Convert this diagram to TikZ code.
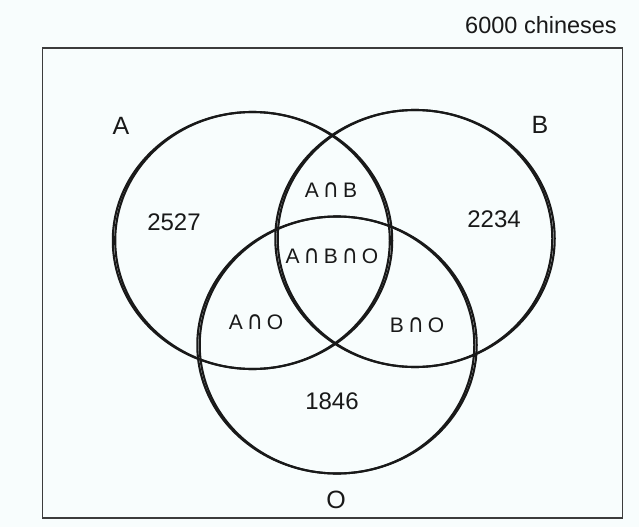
\documentclass[tikz,border=0pt]{standalone}
\usepackage{fontspec}
\setmainfont{Liberation Sans}
\newfontfamily\capfont{DejaVu Sans}
\newcommand{\cupsym}{\hspace{4pt}\scalebox{1.05}[1.22]{\capfont ∩}\hspace{4pt}}
\definecolor{bg}{RGB}{248,253,253}
\definecolor{ink}{RGB}{25,25,25}
\begin{document}
\begin{tikzpicture}[x=1pt,y=-1pt,
  ring/.style={line width=2.1pt, draw=ink},
  num/.style={font=\fontsize{24}{24}\selectfont, inner sep=0pt, text=ink},
  total/.style={font=\fontsize{23.5}{24}\selectfont, inner sep=0pt, text=ink},
  setlab/.style={font=\fontsize{25}{25}\selectfont, inner sep=0pt, text=ink},
  inter/.style={font=\fontsize{21}{21}\selectfont, inner sep=0pt, text=ink}]
\fill[bg] (0,0) rectangle (639,527);
\useasboundingbox (0,0) rectangle (639,527);
\draw[line width=1.2pt, draw=ink!85] (42.5,48) rectangle (622.5,518);
\foreach \cx/\cy in {252.5/240.5, 415/238.5, 337/345} {
  \draw[ring] (\cx,\cy) ellipse [x radius=137.3, y radius=128.5];
  \draw[ring] (\cx,\cy) ellipse [x radius=139.7, y radius=128.5];
}
\node[total] (total) at (541,25) {6000 chineses};
\node[setlab] (la) at (121,126) {A};
\node[setlab] (lb) at (540,124.5) {B};
\node[setlab] (lo) at (336,500) {O};
\node[num] (na) at (174,222) {2527};
\node[num] (nb) at (494,219) {2234};
\node[num] (no) at (332,401) {1846};
\node[inter] (ab) at (331,190.5) {A\cupsym B};
\node[inter] (abo) at (332,256.5) {A\cupsym B\cupsym O};
\node[inter] (ao) at (256,322.5) {A\cupsym O};
\node[inter] (bo) at (417,325) {B\cupsym O};
\end{tikzpicture}
\end{document}
